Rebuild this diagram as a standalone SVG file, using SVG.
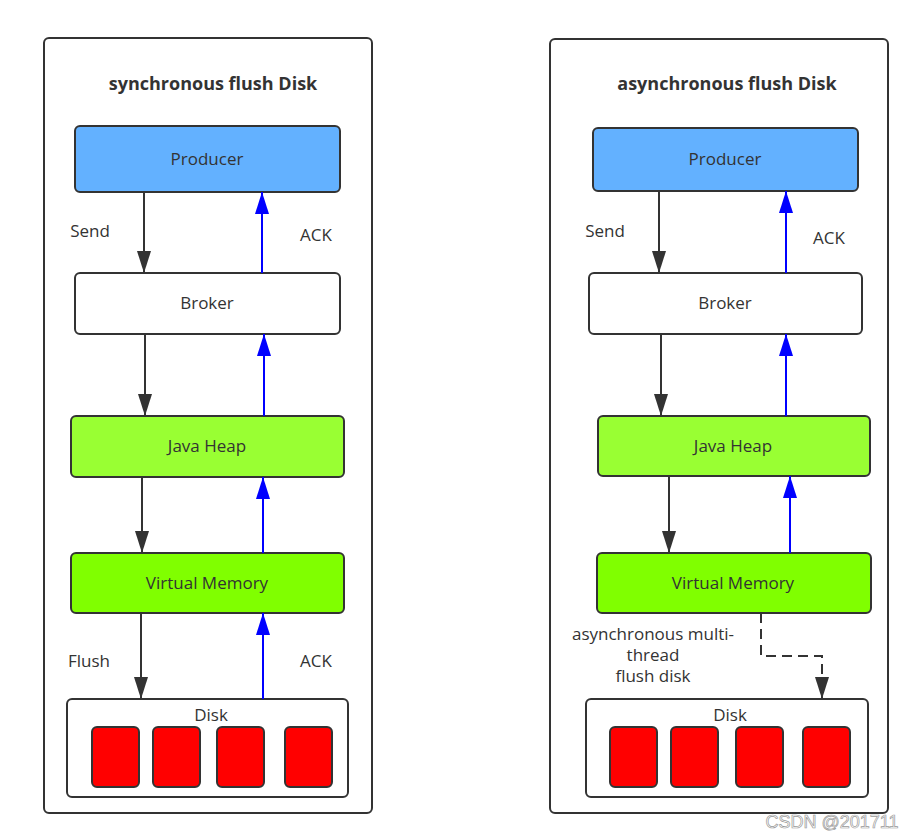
<svg xmlns="http://www.w3.org/2000/svg" width="919" height="837" viewBox="0 0 919 837">
<defs>
<style>
.frame{fill:#fff;stroke:#333;stroke-width:2}
.box{stroke:#333;stroke-width:2}
.lbl{font-family:"Open Sans","Noto Sans",sans-serif;font-size:17px;fill:#333;text-anchor:middle}
.title{font-family:"Open Sans","Noto Sans",sans-serif;font-size:18px;font-weight:bold;fill:#333;text-anchor:middle}
.blk{stroke:#333;stroke-width:2;fill:none;marker-end:url(#ab)}
.blu{stroke:#0000ff;stroke-width:2;fill:none;marker-end:url(#au)}
.dash{stroke:#333;stroke-width:2;fill:none;stroke-dasharray:10 6;marker-end:url(#ab)}
.red{fill:#ff0000;stroke:#333;stroke-width:2}
</style>
<marker id="ab" viewBox="0 0 22 14" refX="22" refY="7" markerWidth="22" markerHeight="14" markerUnits="userSpaceOnUse" orient="auto">
<path d="M0,0 L22,7 L0,14 z" fill="#333"/>
</marker>
<marker id="au" viewBox="0 0 22 14" refX="22" refY="7" markerWidth="22" markerHeight="14" markerUnits="userSpaceOnUse" orient="auto">
<path d="M0,0 L22,7 L0,14 z" fill="#0000ff"/>
</marker>
</defs>
<rect width="919" height="837" fill="#fff"/>

<!-- Left panel -->
<g id="sync-panel">
<rect class="frame" x="44" y="38" width="328" height="775" rx="5"/>
<text class="title" x="213" y="90">synchronous flush Disk</text>
</g>
<g id="sync-producer">
<rect class="box" x="75" y="126" width="265" height="66" rx="5" fill="#63b1ff"/>
<text class="lbl" x="207" y="165">Producer</text>
</g>
<g id="sync-broker">
<rect class="box" x="75" y="273" width="265" height="61" rx="5" fill="#fff"/>
<text class="lbl" x="207" y="309">Broker</text>
</g>
<g id="sync-javaheap">
<rect class="box" x="71" y="416" width="273" height="61" rx="5" fill="#99ff33"/>
<text class="lbl" x="207" y="452">Java Heap</text>
</g>
<g id="sync-vm">
<rect class="box" x="71" y="553" width="273" height="60" rx="5" fill="#80ff00"/>
<text class="lbl" x="207" y="589">Virtual Memory</text>
</g>
<g id="sync-disk">
<rect class="box" x="67" y="699" width="281" height="98" rx="5" fill="#fff"/>
<text class="lbl" x="211" y="721">Disk</text>
<rect class="red" x="92" y="727" width="47" height="60" rx="5"/>
<rect class="red" x="153" y="727" width="47" height="60" rx="5"/>
<rect class="red" x="217" y="727" width="47" height="60" rx="5"/>
<rect class="red" x="285" y="727" width="47" height="60" rx="5"/>
</g>

<!-- Right panel -->
<g id="async-panel">
<rect class="frame" x="550" y="39" width="338" height="774" rx="5"/>
<text class="title" x="727" y="90">asynchronous flush Disk</text>
</g>
<g id="async-producer">
<rect class="box" x="593" y="128" width="265" height="63" rx="5" fill="#63b1ff"/>
<text class="lbl" x="725" y="165">Producer</text>
</g>
<g id="async-broker">
<rect class="box" x="589" y="273" width="273" height="61" rx="5" fill="#fff"/>
<text class="lbl" x="725" y="309">Broker</text>
</g>
<g id="async-javaheap">
<rect class="box" x="598" y="416" width="272" height="60" rx="5" fill="#99ff33"/>
<text class="lbl" x="733" y="452">Java Heap</text>
</g>
<g id="async-vm">
<rect class="box" x="597" y="553" width="274" height="60" rx="5" fill="#80ff00"/>
<text class="lbl" x="733" y="589">Virtual Memory</text>
</g>
<g id="async-disk">
<rect class="box" x="586" y="699" width="282" height="98" rx="5" fill="#fff"/>
<text class="lbl" x="730" y="721">Disk</text>
<rect class="red" x="610" y="727" width="47" height="60" rx="5"/>
<rect class="red" x="671" y="727" width="47" height="60" rx="5"/>
<rect class="red" x="736" y="727" width="47" height="60" rx="5"/>
<rect class="red" x="803" y="727" width="47" height="60" rx="5"/>
</g>

<!-- Connectors -->
<g id="connectors">
<line class="blk" x1="144" y1="192" x2="144" y2="273"/>
<line class="blu" x1="262" y1="273" x2="262" y2="192"/>
<line class="blk" x1="145" y1="334" x2="145" y2="416"/>
<line class="blu" x1="264" y1="416" x2="264" y2="334"/>
<line class="blk" x1="142" y1="477" x2="142" y2="553"/>
<line class="blu" x1="263" y1="553" x2="263" y2="477"/>
<line class="blk" x1="141" y1="613" x2="141" y2="699"/>
<line class="blu" x1="263" y1="699" x2="263" y2="613"/>

<line class="blk" x1="659" y1="191" x2="659" y2="273"/>
<line class="blu" x1="786" y1="273" x2="786" y2="191"/>
<line class="blk" x1="661" y1="334" x2="661" y2="416"/>
<line class="blu" x1="786" y1="416" x2="786" y2="334"/>
<line class="blk" x1="669" y1="476" x2="669" y2="553"/>
<line class="blu" x1="790" y1="553" x2="790" y2="476"/>
<path class="dash" d="M761,613 L761,656 L822,656 L822,699"/>

<text class="lbl" x="90" y="237">Send</text>
<text class="lbl" x="316" y="241">ACK</text>
<text class="lbl" x="89" y="667">Flush</text>
<text class="lbl" x="316" y="667">ACK</text>
<text class="lbl" x="605" y="237">Send</text>
<text class="lbl" x="829" y="244">ACK</text>
<text class="lbl" x="653" y="640">asynchronous multi-</text>
<text class="lbl" x="653" y="661">thread</text>
<text class="lbl" x="653" y="682">flush disk</text>
</g>

<text x="832" y="828" font-family="'Liberation Sans',Arial,sans-serif" font-size="18" fill="#fff" stroke="#999" stroke-width="0.7" text-anchor="middle">CSDN @201711</text>
</svg>
